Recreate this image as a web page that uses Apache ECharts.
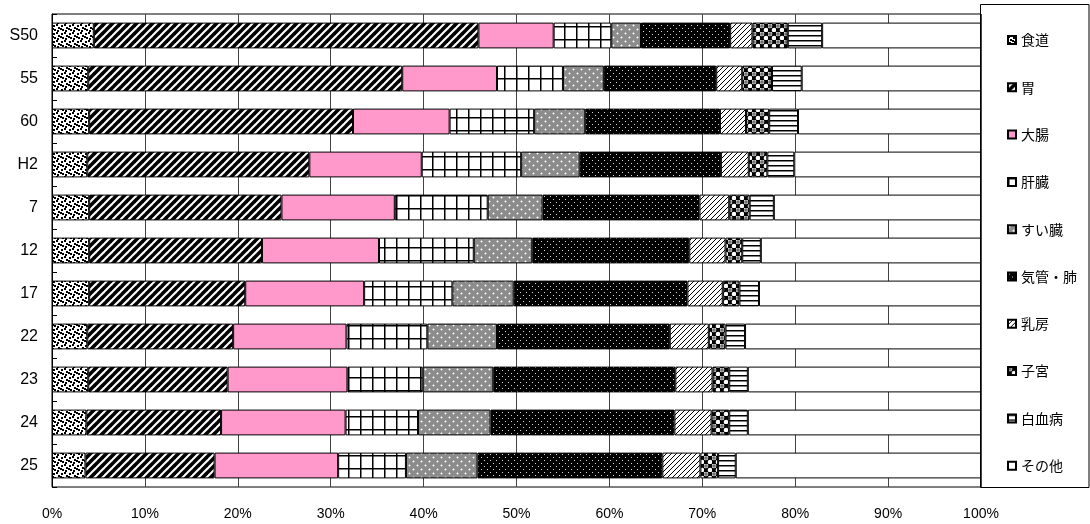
<!DOCTYPE html>
<html>
<head>
<meta charset="utf-8">
<script src="https://cdn.jsdelivr.net/npm/echarts@6/dist/echarts.min.js"></script>
<style>
html,body{margin:0;padding:0;background:#fff;}
#main{width:1090px;height:524px;}
</style>
</head>
<body>
<div id="main"></div>
<script>
const categories = ['S50','55','60','H2','7','12','17','22','23','24','25'];
const seriesNames = ['食道','胃','大腸','肝臓','すい臓','気管・肺','乳房','子宮','白血病','その他'];
const esophagus = [4.5,3.9,4.0,3.8,4.0,4.0,4.0,3.8,3.9,3.7,3.6];
const stomach   = [41.4,33.8,28.4,23.9,20.7,18.6,16.8,15.7,15.0,14.5,13.9];
const colon     = [8.1,10.2,10.4,12.1,12.2,12.6,12.8,12.2,12.9,13.4,13.3];
const liver     = [6.2,7.1,9.1,10.7,10.0,10.2,9.5,8.7,8.1,7.8,7.3];
const pancreas  = [3.2,4.4,5.5,6.3,5.9,6.3,6.6,7.5,7.6,7.8,7.7];
const lung      = [9.6,12.1,14.5,15.2,16.9,16.9,18.7,18.6,19.6,19.8,19.9];
const breast    = [2.4,2.8,2.8,3.0,3.2,3.9,3.8,4.2,4.0,4.0,4.1];
const uterus    = [3.8,3.2,2.5,2.0,2.2,1.8,1.8,1.8,1.8,1.9,1.9];
const leukemia  = [3.7,3.2,3.1,2.9,2.6,2.0,2.1,2.1,2.0,2.0,1.9];
const others    = [17.1,19.3,19.7,20.1,22.3,23.7,23.9,25.4,25.1,25.1,26.4];
const xTicks = [0,10,20,30,40,50,60,70,80,90,100];

function tile(w, h, draw) {
  const c = document.createElement('canvas');
  c.width = w; c.height = h;
  const g = c.getContext('2d');
  draw(g, w, h);
  return { image: c, repeat: 'repeat' };
}
const patterns = [
  // 食道: black specks on white
  tile(8, 8, (g) => {
    g.fillStyle = '#fff'; g.fillRect(0,0,8,8);
    g.fillStyle = '#000';
    [[0,0],[5,1],[2,3],[6,5],[1,6],[4,4]].forEach(p => g.fillRect(p[0],p[1],2,2));
  }),
  // 胃: thick diagonal stripes
  tile(8, 8, (g) => {
    g.fillStyle = '#fff'; g.fillRect(0,0,8,8);
    g.strokeStyle = '#000'; g.lineWidth = 3.6;
    [[-4,4,4,-4],[0,8,8,0],[4,12,12,4]].forEach(l => { g.beginPath(); g.moveTo(l[0],l[1]); g.lineTo(l[2],l[3]); g.stroke(); });
  }),
  // 大腸: pink
  '#ff99cc',
  // 肝臓: grid
  tile(12, 13, (g) => {
    g.fillStyle = '#fff'; g.fillRect(0,0,12,13);
    g.fillStyle = '#000';
    g.fillRect(0,0,1.5,13); g.fillRect(0,0,12,1.5);
  }),
  // すい臓: grey with white sparkles
  tile(8, 8, (g) => {
    g.fillStyle = '#8c8c8c'; g.fillRect(0,0,8,8);
    g.fillStyle = '#fff';
    g.fillRect(1,1,1,1); g.fillRect(5,5,1,1);
    g.fillStyle = '#c0c0c0';
    g.fillRect(0,1,1,1); g.fillRect(2,1,1,1); g.fillRect(1,0,1,1); g.fillRect(1,2,1,1);
    g.fillRect(4,5,1,1); g.fillRect(6,5,1,1); g.fillRect(5,4,1,1); g.fillRect(5,6,1,1);
  }),
  // 気管・肺: black with white dots
  tile(6, 6, (g) => {
    g.fillStyle = '#000'; g.fillRect(0,0,6,6);
    g.fillStyle = '#d8d8d8';
    g.fillRect(1,1,1,1); g.fillRect(4,4,1,1);
  }),
  // 乳房: thin diagonal lines
  tile(5, 5, (g) => {
    g.fillStyle = '#fff'; g.fillRect(0,0,5,5);
    g.strokeStyle = '#000'; g.lineWidth = 1;
    [[-3,3,3,-3],[0,5,5,0],[2,8,8,2]].forEach(l => { g.beginPath(); g.moveTo(l[0],l[1]); g.lineTo(l[2],l[3]); g.stroke(); });
  }),
  // 子宮: circles
  tile(8, 8, (g) => {
    g.fillStyle = '#000'; g.fillRect(0,0,8,8);
    g.fillStyle = '#fff';
    g.beginPath(); g.arc(2,2,2.3,0,Math.PI*2); g.fill();
    g.beginPath(); g.arc(6,6,2.3,0,Math.PI*2); g.fill();
    g.strokeStyle = '#000'; g.lineWidth = 0.8;
    g.beginPath(); g.arc(2,2,1.2,0,Math.PI*2); g.stroke();
  }),
  // 白血病: horizontal lines
  tile(4, 5, (g) => {
    g.fillStyle = '#fff'; g.fillRect(0,0,4,5);
    g.fillStyle = '#000'; g.fillRect(0,0,4,1.5);
  }),
  // その他: white
  '#ffffff'
];

const dataSets = [esophagus, stomach, colon, liver, pancreas, lung, breast, uterus, leukemia, others];

const series = seriesNames.map((name, i) => ({
  name: name,
  type: 'bar',
  stack: 'total',
  barCategoryGap: '40%',
  data: dataSets[i],
  itemStyle: { color: patterns[i], borderColor: '#000', borderWidth: 1 },
  emphasis: { disabled: true },
  animation: false
}));

const chart = echarts.init(document.getElementById('main'));
chart.setOption({
  animation: false,
  backgroundColor: '#fff',
  grid: { left: 52, right: 109, top: 14, bottom: 37, show: true, borderColor: '#000', borderWidth: 1 },
  xAxis: {
    type: 'value', min: xTicks[0], max: xTicks[xTicks.length-1], interval: 10,
    axisLine: { show: false }, axisTick: { show: false },
    splitLine: { show: true, lineStyle: { color: '#444', width: 1 } },
    axisLabel: { formatter: '{value}%', fontFamily: 'Liberation Sans, Arial, sans-serif', fontSize: 14, color: '#000', margin: 20 }
  },
  yAxis: {
    type: 'category', data: categories, inverse: true,
    axisLine: { show: true, lineStyle: { color: '#000', width: 1 } },
    axisTick: { show: true, inside: true, length: 5, lineStyle: { color: '#000' } },
    axisLabel: { fontFamily: 'Liberation Sans, Arial, sans-serif', fontSize: 16, color: '#000', margin: 14 }
  },
  legend: {
    orient: 'vertical', left: 1007, top: 33, padding: 0,
    itemWidth: 8, itemHeight: 8, itemGap: 33.3, icon: 'rect',
    selectedMode: false,
    textStyle: { fontFamily: 'Noto Sans CJK JP', fontSize: 14, color: '#000', lineHeight: 14 },
    data: seriesNames
  },
  graphic: [{
    type: 'rect', left: 980, top: 4, z: 0,
    shape: { width: 108.5, height: 483 },
    style: { fill: '#fff', stroke: '#000', lineWidth: 1 }
  }],
  series: series
});
</script>
</body>
</html>
